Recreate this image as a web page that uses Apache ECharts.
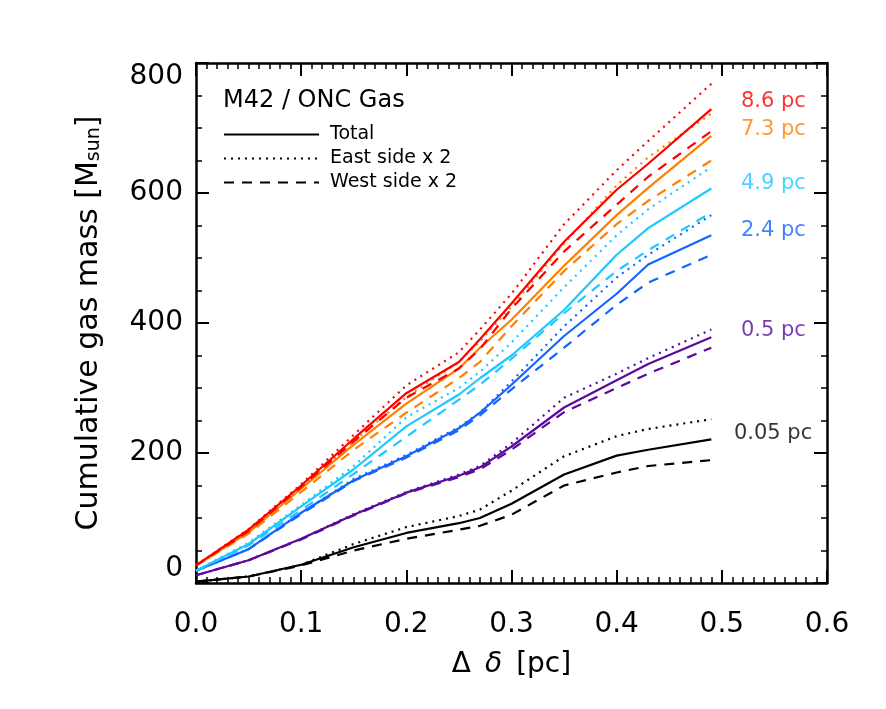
<!DOCTYPE html>
<html>
<head>
<meta charset="utf-8">
<script src="https://cdn.jsdelivr.net/npm/echarts@6/dist/echarts.min.js"></script>
<style>
  html, body { margin: 0; padding: 0; background: #fff; }
  #chart { width: 886px; height: 709px; }
</style>
</head>
<body>
<div id="chart"></div>
<script>
// Δδ [pc] sample points shared by every curve
const dDelta = [0, 0.05, 0.1, 0.15, 0.2, 0.25, 0.27, 0.3, 0.35, 0.4, 0.43, 0.49]

// cumulative gas mass [Msun], per aperture: total / east x2 / west x2
const total_86 = [27, 82, 150, 222, 292, 340, 375, 430, 525, 605, 645, 729]
const east_86 = [27, 83, 152, 228, 304, 355, 390, 445, 552, 635, 680, 768]
const west_86 = [27, 80, 148, 218, 285, 330, 360, 422, 510, 582, 625, 695]

const total_73 = [27, 78, 145, 213, 276, 330, 362, 405, 488, 566, 608, 688]
const east_73 = [27, 80, 147, 218, 286, 340, 372, 425, 522, 612, 655, 722]
const west_73 = [27, 76, 140, 205, 262, 315, 340, 395, 480, 552, 588, 650]

const total_49 = [19, 60, 118, 175, 241, 290, 315, 350, 420, 505, 546, 607]
const east_49 = [19, 62, 120, 180, 255, 300, 325, 370, 455, 535, 575, 640]
const west_49 = [19, 58, 112, 168, 225, 282, 305, 345, 415, 480, 512, 570]

const total_24 = [19, 52, 108, 158, 195, 238, 262, 305, 380, 445, 490, 535]
const east_24 = [19, 52, 108, 160, 197, 240, 262, 310, 395, 470, 505, 566]
const west_24 = [19, 52, 106, 157, 193, 235, 258, 298, 362, 428, 462, 505]

const total_05 = [12, 35, 68, 105, 139, 165, 178, 210, 270, 312, 337, 378]
const east_05 = [12, 35, 68, 106, 140, 167, 180, 215, 285, 322, 346, 390]
const west_05 = [12, 35, 67, 104, 138, 163, 175, 205, 263, 300, 322, 362]

const total_005 = [2, 10, 28, 55, 77, 92, 100, 122, 167, 196, 205, 221]
const east_005 = [2, 10, 28, 60, 86, 103, 113, 142, 195, 226, 237, 252]
const west_005 = [2, 10, 27, 50, 68, 82, 88, 105, 150, 170, 180, 189]

// right-hand aperture labels and where they sit
const ringNames = ['8.6 pc', '7.3 pc', '4.9 pc', '2.4 pc', '0.5 pc', '0.05 pc']
const ringLabelX = [0.549, 0.549, 0.549, 0.549, 0.549, 0.5487]
const ringLabelY = [740, 698, 615, 543, 388, 230]

const colors = ['#ff0000', '#ff8000', '#1ec8ff', '#1464ff', '#5a0a9c', '#000000']
const groups = [
  [total_86, east_86, west_86],
  [total_73, east_73, west_73],
  [total_49, east_49, west_49],
  [total_24, east_24, west_24],
  [total_05, east_05, west_05],
  [total_005, east_005, west_005]
]
const styleNames = ['Total', 'East side x 2', 'West side x 2']
const dashTypes = ['solid', [2, 5], [10, 8]]

const FONT = 'DejaVu Sans'

const series = []
// black curves first so the legend picks them up by name
for (let g = groups.length - 1; g >= 0; g--) {
  groups[g].forEach((vals, k) => {
    series.push({
      name: g === groups.length - 1 ? styleNames[k] : ringNames[g] + ' ' + k,
      type: 'line',
      data: dDelta.map((x, i) => [x, vals[i]]),
      symbol: 'none',
      smooth: false,
      lineStyle: { color: colors[g], width: 2.2, type: dashTypes[k] },
      itemStyle: { color: colors[g] },
      z: 3
    })
  })
}

series.push({
  name: 'labels',
  type: 'scatter',
  symbolSize: 0,
  silent: true,
  data: ringNames.map((n, i) => ({
    value: [ringLabelX[i], ringLabelY[i]],
    label: { color: colors[i] }
  })),
  label: {
    show: true,
    position: 'inside',
    fontFamily: FONT,
    fontSize: 21,
    formatter: p => ringNames[p.dataIndex]
  }
})

const axisCommon = {
  type: 'value',
  axisLine: { show: true, onZero: false, lineStyle: { color: '#000', width: 2.5 } },
  axisTick: { show: true, inside: true, length: 13, lineStyle: { color: '#000', width: 2 } },
  minorTick: { show: true, length: 6, lineStyle: { color: '#000', width: 1.5 } },
  splitLine: { show: false }
}

const chart = echarts.init(document.getElementById('chart'))
chart.setOption({
  animation: false,
  backgroundColor: '#fff',
  title: {
    text: 'M42 / ONC Gas',
    left: 218,
    top: 84,
    textStyle: { fontFamily: FONT, fontSize: 24, fontWeight: 'normal', color: '#000' }
  },
  legend: {
    data: styleNames,
    orient: 'vertical',
    left: 218,
    top: 120,
    itemWidth: 95,
    itemHeight: 20,
    itemGap: 5,
    itemStyle: { opacity: 0 },
    textStyle: { fontFamily: FONT, fontSize: 19, color: '#000', padding: [0, 0, 0, 6] }
  },
  grid: { left: 196, right: 59, top: 63, bottom: 126 },
  xAxis: [
    Object.assign({}, axisCommon, {
      min: 0, max: 0.6, interval: 0.1,
      minorTick: Object.assign({}, axisCommon.minorTick, { splitNumber: 10 }),
      name: '{a|Δ}{d|δ}{a|[pc]}',
      nameLocation: 'middle',
      nameGap: 68,
      nameTextStyle: {
        rich: {
          a: { fontFamily: FONT, fontSize: 28, color: '#000' },
          d: { fontFamily: FONT, fontSize: 28, fontStyle: 'italic', color: '#000', padding: [0, 14, 0, 14] }
        }
      },
      axisLabel: {
        margin: 28,
        fontFamily: FONT, fontSize: 28, color: '#000',
        formatter: v => v.toFixed(1)
      }
    }),
    Object.assign({}, axisCommon, {
      position: 'top',
      min: 0, max: 0.6, interval: 0.1,
      minorTick: Object.assign({}, axisCommon.minorTick, { splitNumber: 10 }),
      axisLabel: { show: false }
    })
  ],
  yAxis: [
    Object.assign({}, axisCommon, {
      min: 0, max: 800, interval: 200,
      minorTick: Object.assign({}, axisCommon.minorTick, { splitNumber: 4 }),
      name: 'Cumulative gas mass [M{s|sun}]',
      nameLocation: 'middle',
      nameGap: 92,
      nameTextStyle: {
        fontFamily: FONT, fontSize: 30, color: '#000',
        rich: { s: { fontFamily: FONT, fontSize: 19, color: '#000', verticalAlign: 'bottom' } }
      },
      axisLabel: {
        margin: 13,
        fontFamily: FONT, fontSize: 28, color: '#000',
        verticalAlignMinLabel: 'bottom',
        verticalAlignMaxLabel: 'top'
      }
    }),
    Object.assign({}, axisCommon, {
      position: 'right',
      min: 0, max: 800, interval: 200,
      minorTick: Object.assign({}, axisCommon.minorTick, { splitNumber: 4 }),
      axisLabel: { show: false }
    })
  ],
  series: series
})
</script>
</body>
</html>
